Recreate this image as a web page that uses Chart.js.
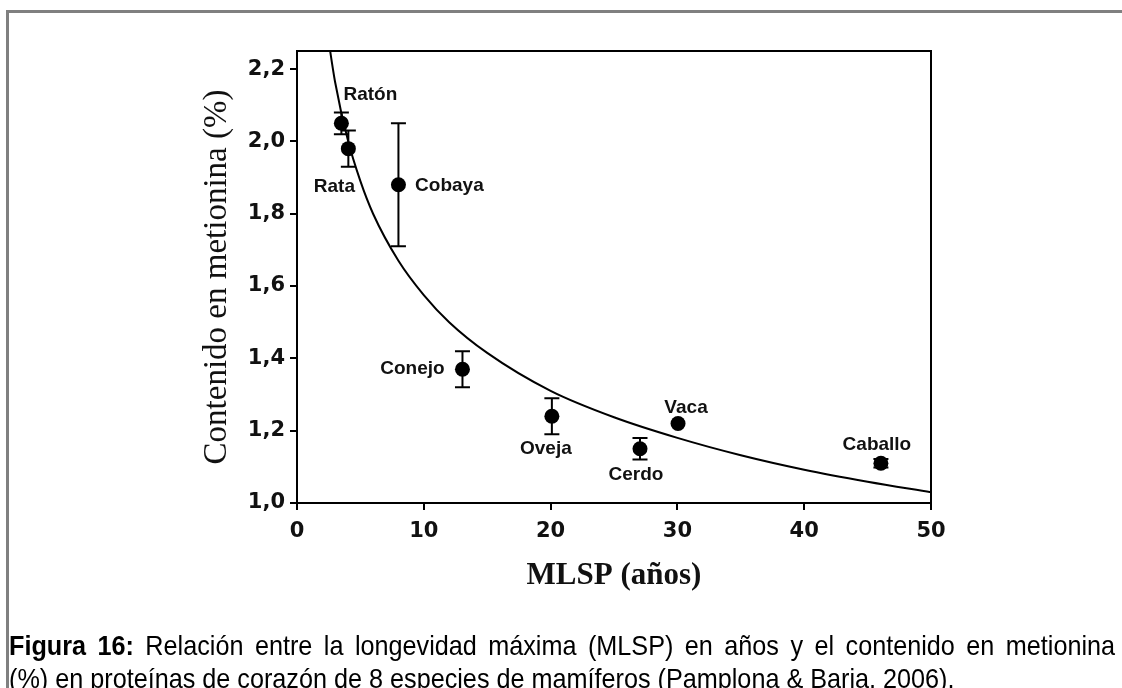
<!DOCTYPE html>
<html lang="es">
<head>
<meta charset="utf-8">
<title>Figura 16</title>
<script src="https://cdn.jsdelivr.net/npm/chart.js"></script>
<style>
  html, body { margin: 0; padding: 0; background: #fff; }
  #marco { position: relative; width: 1122px; height: 688px; overflow: hidden; background: #fff; }
  #marco::before {
    content: ""; position: absolute; left: 6px; top: 10px; right: -10px; bottom: -10px;
    border-left: 3px solid #808080; border-top: 3px solid #808080;
  }
  canvas { position: absolute; left: 0; top: 0; }
  #pie {
    position: absolute; left: 9px; top: 629px; width: 1229px;
    transform: scaleX(0.9); transform-origin: left top;
    font-family: "Liberation Sans", Arial, sans-serif;
    font-size: 28px; line-height: 33px; color: #000;
  }
  #pie .l1 { text-align: justify; text-align-last: justify; white-space: nowrap; }
  #pie .l2 { white-space: nowrap; }
</style>
</head>
<body>
<div id="marco">
  <canvas id="grafico" width="1122" height="688"></canvas>
  <div id="pie">
    <div class="l1"><b>Figura 16:</b> Relación entre la longevidad máxima (MLSP) en años y el contenido en metionina</div>
    <div class="l2">(%) en proteínas de corazón de 8 especies de mamíferos (Pamplona &amp; Barja, 2006).</div>
  </div>
</div>
<script>
// datos
const especies = ["Ratón", "Rata", "Cobaya", "Conejo", "Oveja", "Cerdo", "Vaca", "Caballo"];
const mlsp = [3.5, 4.05, 8.0, 13.05, 20.1, 27.05, 30.05, 46.05];
const metionina = [2.05, 1.98, 1.88, 1.37, 1.24, 1.15, 1.22, 1.11];
const errorMet = [0.03, 0.05, 0.17, 0.05, 0.05, 0.03, 0, 0.012];

// curva de ajuste (puntos leidos sobre la linea)
const curvaX = [2.4, 3, 4, 5, 6, 8, 10, 12, 15, 20, 25, 30, 35, 40, 45, 50];
const curvaY = [2.30, 2.165, 2.005, 1.89, 1.80, 1.67, 1.575, 1.50, 1.415, 1.31, 1.237, 1.18, 1.132, 1.092, 1.059, 1.03];

const xTicks = [0, 10, 20, 30, 40, 50];
const yTicks = [1.0, 1.2, 1.4, 1.6, 1.8, 2.0, 2.2];

// desplazamiento de cada etiqueta respecto a su punto (px)
const posEtiqueta = {
    "Ratón": [29, -29], "Rata": [-14, 38], "Cobaya": [51, 1], "Conejo": [-50, 0],
    "Oveja": [-6, 33], "Cerdo": [-4, 26], "Vaca": [8, -16], "Caballo": [-4, -18]
};

const marcoPlugin = {
    id: "marcoPlugin",
    afterDraw(chart) {
        const { ctx, chartArea: a } = chart;
        ctx.save();
        ctx.strokeStyle = "#000";
        ctx.lineWidth = 2;
        ctx.beginPath();
        ctx.moveTo(a.left, a.top);
        ctx.lineTo(a.right, a.top);
        ctx.lineTo(a.right, a.bottom);
        ctx.stroke();
        ctx.restore();
    }
};

const barrasError = {
    id: "barrasError",
    afterDatasetsDraw(chart) {
        const { ctx, scales: { x, y } } = chart;
        ctx.save();
        ctx.strokeStyle = "#000";
        ctx.lineWidth = 2;
        mlsp.forEach((m, i) => {
            if (!errorMet[i]) return;
            const px = x.getPixelForValue(m);
            const arriba = y.getPixelForValue(metionina[i] + errorMet[i]);
            const abajo = y.getPixelForValue(metionina[i] - errorMet[i]);
            ctx.beginPath();
            ctx.moveTo(px, arriba); ctx.lineTo(px, abajo);
            ctx.moveTo(px - 7.5, arriba); ctx.lineTo(px + 7.5, arriba);
            ctx.moveTo(px - 7.5, abajo); ctx.lineTo(px + 7.5, abajo);
            ctx.stroke();
        });
        ctx.restore();
    }
};

const etiquetas = {
    id: "etiquetas",
    afterDatasetsDraw(chart) {
        const { ctx, scales: { x, y } } = chart;
        ctx.save();
        ctx.fillStyle = "#111";
        ctx.font = "bold 19px 'Liberation Sans', Arial, sans-serif";
        ctx.textAlign = "center";
        ctx.textBaseline = "middle";
        especies.forEach((nombre, i) => {
            const d = posEtiqueta[nombre];
            ctx.fillText(nombre, x.getPixelForValue(mlsp[i]) + d[0], y.getPixelForValue(metionina[i]) + d[1]);
        });
        ctx.restore();
    }
};

const fuenteTicks = { family: "'DejaVu Sans', sans-serif", size: 21, weight: "bold" };

const ctx = document.getElementById("grafico").getContext("2d");
new Chart(ctx, {
    type: "scatter",
    data: {
        datasets: [
            {
                type: "line",
                data: curvaX.map((v, i) => ({ x: v, y: curvaY[i] })),
                borderColor: "#000",
                borderWidth: 2,
                pointRadius: 0,
                fill: false,
                cubicInterpolationMode: "monotone",
                order: 2
            },
            {
                data: mlsp.map((v, i) => ({ x: v, y: metionina[i] })),
                pointRadius: 7.5,
                pointHoverRadius: 7.5,
                backgroundColor: "#000",
                borderColor: "#000",
                borderWidth: 0,
                order: 1
            }
        ]
    },
    options: {
        responsive: false,
        animation: false,
        layout: { padding: { left: 150, top: 51, right: 191, bottom: 85 } },
        plugins: { legend: { display: false }, tooltip: { enabled: false } },
        scales: {
            x: {
                type: "linear",
                min: 0,
                max: 50,
                afterBuildTicks: s => { s.ticks = xTicks.map(v => ({ value: v })); },
                afterFit: s => { s.height = 100; },
                ticks: { font: fuenteTicks, color: "#111", padding: 9, maxRotation: 0 },
                grid: { drawOnChartArea: false, tickLength: 7, color: "#000", lineWidth: 2 },
                border: { display: true, color: "#000", width: 2 },
                title: {
                    display: true,
                    text: "MLSP (años)",
                    color: "#111",
                    font: { family: "'Liberation Serif', 'Times New Roman', serif", size: 31, weight: "bold" },
                    padding: { top: 0, bottom: 8 }
                }
            },
            y: {
                min: 1.0,
                max: 2.25,
                afterBuildTicks: s => { s.ticks = yTicks.map(v => ({ value: v })); },
                afterFit: s => { s.width = 147; },
                ticks: {
                    font: fuenteTicks,
                    color: "#111",
                    padding: 5,
                    callback: v => v.toFixed(1).replace(".", ",")
                },
                grid: { drawOnChartArea: false, tickLength: 7, color: "#000", lineWidth: 2 },
                border: { display: true, color: "#000", width: 2 },
                title: {
                    display: true,
                    text: "Contenido en metionina (%)",
                    color: "#111",
                    font: { family: "'Liberation Serif', 'Times New Roman', serif", size: 33 },
                    padding: { top: 48, bottom: 0 }
                }
            }
        }
    },
    plugins: [marcoPlugin, barrasError, etiquetas]
});
</script>
</body>
</html>
